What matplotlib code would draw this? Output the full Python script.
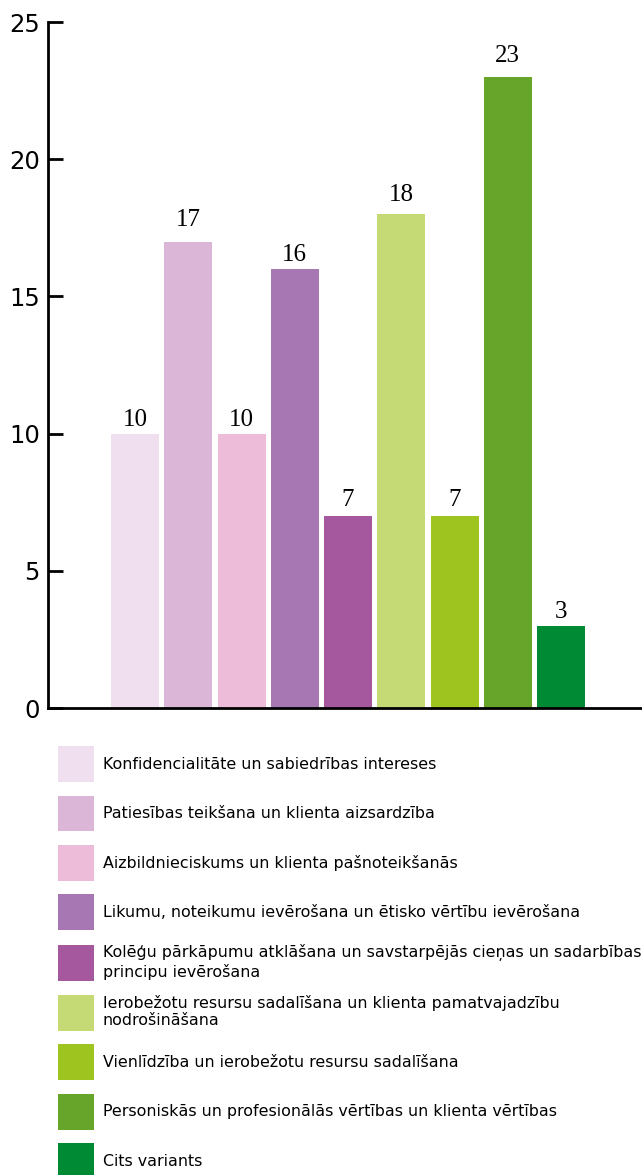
import matplotlib.pyplot as plt
from matplotlib.patches import Patch

categories = [
    "Konfidencialitāte un sabiedrības intereses",
    "Patiesības teikšana un klienta aizsardzība",
    "Aizbildnieciskums un klienta pašnoteikšanās",
    "Likumu, noteikumu ievērošana un ētisko vērtību ievērošana",
    "Kolēģu pārkāpumu atklāšana un savstarpējās cieņas un sadarbības\nprincipu ievērošana",
    "Ierobežotu resursu sadalīšana un klienta pamatvajadzību\nnodrošināšana",
    "Vienlīdzība un ierobežotu resursu sadalīšana",
    "Personiskās un profesionālās vērtības un klienta vērtības",
    "Cits variants",
]
values = [10, 17, 10, 16, 7, 18, 7, 23, 3]
colors = ["#F0DFEE", "#DCB6D7", "#EDBCD8", "#A677B3", "#A6589F",
          "#C5D974", "#9EC41F", "#67A52A", "#008A33"]
yticks = [0, 5, 10, 15, 20, 25]

plt.rcParams['font.family'] = ['DejaVu Sans']

fig = plt.figure(figsize=(6.42, 11.75), dpi=100)
ax = fig.add_axes([0.0748, 0.3974, 0.9252, 0.5838])

x = list(range(len(values)))
bars = ax.bar(x, values, width=0.9, color=colors, edgecolor='none')

# value labels, gap above each bar in points
gaps = [2, 7.5, 2, 2, 3.5, 6, 3.5, 7.5, 2]
for xi, v, g in zip(x, values, gaps):
    ax.annotate(str(v), xy=(xi, v), xytext=(0, g), textcoords='offset points',
                ha='center', va='bottom', fontsize=18,
                family='Liberation Serif', color='black')

ax.set_xlim(-1.634, 9.52)
ax.set_ylim(0, 25)
ax.set_yticks(yticks)
ax.set_xticks([])
ax.tick_params(axis='y', direction='in', length=11, width=2, labelsize=17.5, pad=6)

for side in ['top', 'right']:
    ax.spines[side].set_visible(False)
for side in ['left', 'bottom']:
    ax.spines[side].set_linewidth(2)

# square swatches: patch height = fs*(0.65*hh + 0.245)
legend_fs = 11.4
handles = [Patch(facecolor=c, edgecolor='none') for c in colors]
fig.legend(handles, categories, loc='upper left', bbox_to_anchor=(0.0903, 0.3651),
           frameon=False, fontsize=legend_fs, handlelength=2.274, handleheight=3.12,
           handletextpad=0.55, labelspacing=0.853, borderpad=0, borderaxespad=0)

fig.savefig('out.png', dpi=100)
